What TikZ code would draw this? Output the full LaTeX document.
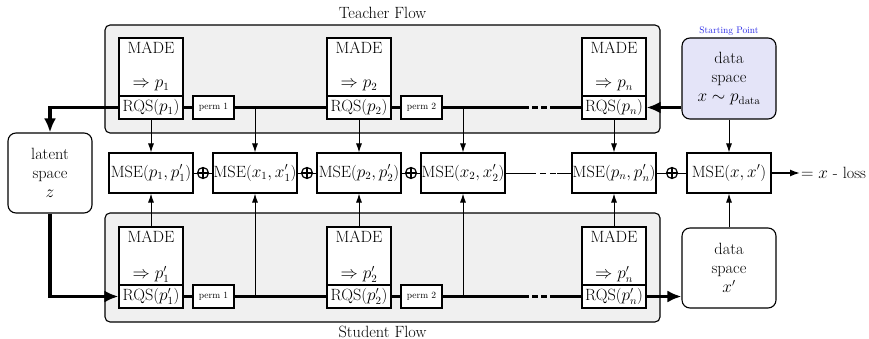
\documentclass[tikz,border=0pt]{standalone}
\usetikzlibrary{arrows.meta,calc}
\definecolor{flowgray}{RGB}{240,240,240}
\definecolor{startfill}{RGB}{228,228,248}
\definecolor{startblue}{RGB}{40,40,230}
\begin{document}
\begin{tikzpicture}[x=1pt,y=-1pt,
  txt/.style={font=\fontsize{16.3}{19}\selectfont},
  flowbox/.style={draw, line width=1.1pt, fill=flowgray, rounded corners=5pt, inner sep=0},
  madebox/.style={draw, line width=1.1pt, fill=white, minimum width=64pt, minimum height=58pt, inner sep=0},
  rqsbox/.style={draw, line width=1.1pt, fill=white, minimum width=64pt, minimum height=23pt, inner sep=0, txt},
  permbox/.style={draw, line width=1.1pt, fill=white, minimum width=41pt, minimum height=23pt, inner sep=0, font=\fontsize{9.5}{11}\selectfont},
  msebox/.style={draw, line width=1.1pt, fill=white, minimum width=84pt, minimum height=40pt, inner sep=0, txt},
  spacebox/.style={draw, line width=1.1pt, rounded corners=8pt, minimum width=94pt, minimum height=80pt, align=center, inner sep=0, txt},
  flowline/.style={line width=3.6pt},
  bigarrow/.style={line width=3.6pt, -{Latex[length=14pt,width=12pt]}},
  thinarrow/.style={line width=0.9pt, -{Latex[length=9pt,width=6pt]}},
  thinline/.style={line width=0.9pt},
  plus/.style={circle, draw, line width=1.2pt, minimum size=11pt, inner sep=0,
    path picture={\draw[line width=1.2pt] (path picture bounding box.west) -- (path picture bounding box.east)
      (path picture bounding box.north) -- (path picture bounding box.south);}},
]
\useasboundingbox (0,0) rectangle (869,339);

% flow containers
\node[flowbox, minimum width=555pt, minimum height=108pt] (tflow) at (382.5,79) {};
\node[txt, inner sep=0] (ttitle) at (382.5,13) {Teacher Flow};
\node[flowbox, minimum width=555pt, minimum height=109pt] (sflow) at (382.5,267.5) {};
\node[txt, inner sep=0] (stitle) at (382.5,331.5) {Student Flow};

% teacher blocks
\foreach \i/\x in {1/151,2/359,n/614}{
  \node[madebox] (tm\i) at (\x,67) {};
  \node[txt] (tmt\i) at ($(tm\i.north)+(0,10)$) {MADE};
  \node[txt] (tmp\i) at ($(tm\i.south)+(0,-11)$) {$\Rightarrow p_{\i}$};
  \node[rqsbox] (tr\i) at (\x,107.5) {RQS($p_{\i}$)};
}
% student blocks
\foreach \i/\x in {1/151,2/359,n/614}{
  \node[madebox] (sm\i) at (\x,256) {};
  \node[txt] (smt\i) at ($(sm\i.north)+(0,10)$) {MADE};
  \node[txt] (smp\i) at ($(sm\i.south)+(0,-11)$) {$\Rightarrow p'_{\i}$};
  \node[rqsbox] (sr\i) at (\x,296.5) {RQS($p'_{\i}$)};
}
\node[permbox] (tp1) at (213.5,107.5) {perm 1};
\node[permbox] (tp2) at (421.5,107.5) {perm 2};
\node[permbox] (sp1) at (213.5,296.5) {perm 1};
\node[permbox] (sp2) at (421.5,296.5) {perm 2};

% spaces
\node[spacebox, fill=startfill, minimum height=81pt] (tdata) at (729,78.5) {data\\space\\$x\sim p_{\mathrm{data}}$};
\node[font=\fontsize{9.5}{11}\selectfont, text=startblue] (start) at (729,31) {Starting Point};
\node[spacebox] (sdata) at (729,268) {data\\space\\$x'$};
\node[spacebox, minimum width=84pt] (latent) at (50,173) {latent\\space\\$z$};

% MSE row
\node[msebox] (m1) at (151,173) {MSE($p_1,p'_1$)};
\node[msebox] (m2) at (255,173) {MSE($x_1,x'_1$)};
\node[msebox] (m3) at (359,173) {MSE($p_2,p'_2$)};
\node[msebox] (m4) at (463,173) {MSE($x_2,x'_2$)};
\node[msebox] (m5) at (614,173) {MSE($p_n,p'_n$)};
\node[msebox] (m6) at (729,173) {MSE($x,x'$)};
\node[plus] (pl1) at (203,173) {};
\node[plus] (pl2) at (307,173) {};
\node[plus] (pl3) at (411,173) {};
\node[plus] (pl4) at (672,173) {};
\node[txt, anchor=west, inner sep=1pt] (loss) at (800,173) {$= x$ - loss};

\draw[thinline] (m1) -- (pl1) -- (m2) -- (pl2) -- (m3) -- (pl3) -- (m4);
\coordinate (md1) at (530,173);
\coordinate (md2) at (557,173);
\draw[thinline] (m4) -- (md1);
\draw[thinline, dash pattern=on 6pt off 4pt] (md1) -- (md2);
\draw[thinline] (md2) -- (m5) -- (pl4) -- (m6);
\draw[line width=1.6pt, -{Latex[length=10pt,width=7pt]}] (m6) -- (loss);

% teacher thick flow
\coordinate (td1) at (523,107.5);
\coordinate (td2) at (553,107.5);
\draw[flowline] (tr1) -- (tp1);
\draw[flowline] (tp1) -- (tr2);
\draw[flowline] (tr2) -- (tp2);
\draw[flowline] (tp2) -- (td1);
\draw[flowline, dash pattern=on 6pt off 3pt] (td1) -- (td2);
\draw[flowline] (td2) -- (trn);
\draw[bigarrow] (tdata.west |- trn.east) -- (trn.east);
\draw[bigarrow] (tr1.west) -- (latent.north |- tr1.west) -- (latent.north);

% student thick flow
\coordinate (sd1) at (523,296.5);
\coordinate (sd2) at (553,296.5);
\draw[flowline] (sr1) -- (sp1);
\draw[flowline] (sp1) -- (sr2);
\draw[flowline] (sr2) -- (sp2);
\draw[flowline] (sp2) -- (sd1);
\draw[flowline, dash pattern=on 6pt off 3pt] (sd1) -- (sd2);
\draw[flowline] (sd2) -- (srn);
\draw[bigarrow] (latent.south) |- (sr1.west);
\draw[bigarrow] (srn.east) -- (sdata.west |- srn.east);

% teacher to MSE
\coordinate (tb1) at (m2 |- tp1);
\coordinate (tb2) at (m4 |- tp2);
\draw[thinarrow] (tr1) -- (m1);
\draw[thinarrow] (tb1) -- (m2);
\draw[thinarrow] (tr2) -- (m3);
\draw[thinarrow] (tb2) -- (m4);
\draw[thinarrow] (trn) -- (m5);
\draw[thinarrow] (tdata) -- (m6);

% student to MSE
\coordinate (sb1) at (m2 |- sp1);
\coordinate (sb2) at (m4 |- sp2);
\draw[thinarrow] (sm1) -- (m1);
\draw[thinarrow] (sb1) -- (m2);
\draw[thinarrow] (sm2) -- (m3);
\draw[thinarrow] (sb2) -- (m4);
\draw[thinarrow] (smn) -- (m5);
\draw[thinarrow] (sdata) -- (m6);
\end{tikzpicture}
\end{document}
